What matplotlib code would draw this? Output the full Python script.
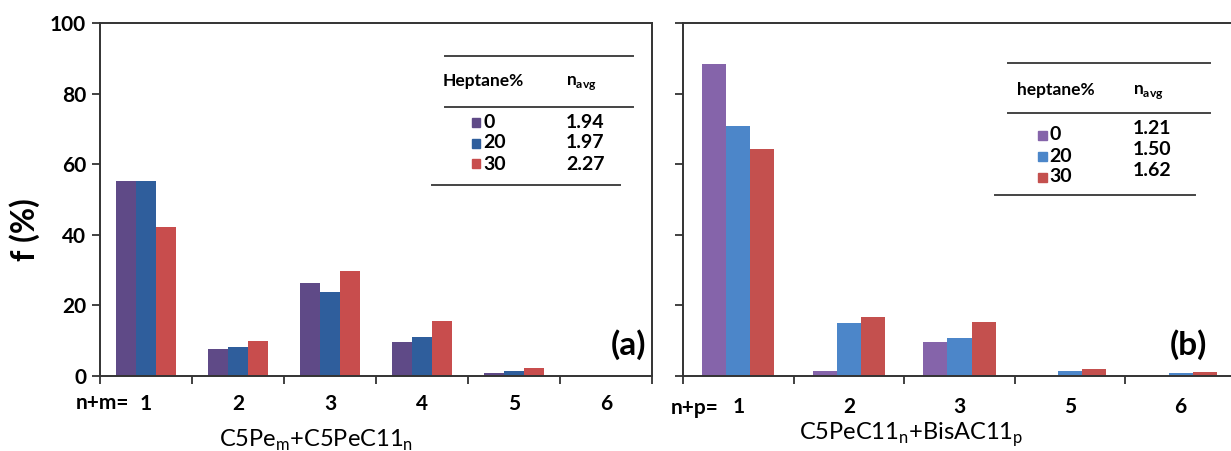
import numpy as np
import matplotlib
matplotlib.use('Agg')
import matplotlib.pyplot as plt
from matplotlib.lines import Line2D
from matplotlib.patches import Rectangle

plt.rcParams['font.family'] = ['Lato', 'DejaVu Sans']
plt.rcParams['mathtext.fontset'] = 'custom'
plt.rcParams['mathtext.rm'] = 'Lato'
plt.rcParams['mathtext.bf'] = 'Lato:bold'

# panel (a): C5Pe_m + C5PeC11_n
cats_a = ['1', '2', '3', '4', '5', '6']
a_0 = [55.3, 7.6, 26.3, 9.6, 0.8, 0.0]
a_20 = [55.1, 8.1, 23.7, 11.1, 1.5, 0.0]
a_30 = [42.1, 10.0, 29.8, 15.7, 2.4, 0.0]
navg_a = ['1.94', '1.97', '2.27']

# panel (b): C5PeC11_n + BisAC11_p
cats_b = ['1', '2', '3', '5', '6']
b_0 = [88.4, 1.5, 9.7, 0.0, 0.0]
b_20 = [70.7, 15.1, 10.9, 1.5, 0.8]
b_30 = [64.4, 16.6, 15.3, 1.9, 1.0]
navg_b = ['1.21', '1.50', '1.62']

heptane = ['0', '20', '30']
colors_a = ['#5f4a87', '#2f5e9c', '#c84d4d']
colors_b = ['#8564aa', '#4c86c9', '#c4504e']

W, H = 1231, 451
fig = plt.figure(figsize=(W / 100, H / 100), dpi=100)


def fx(px):
    return px / W


def fy(py):
    return 1 - py / H


def bars(ax, series, colors, ncat, pad):
    x = np.arange(ncat) + 0.5
    bw = 0.217
    for j, (vals, c) in enumerate(zip(series, colors)):
        ax.bar(x + (j - 1) * bw, vals, width=bw, color=c, edgecolor='none')
    ax.set_xlim(0, ncat)
    ax.set_ylim(0, 100)
    ax.set_xticks(np.arange(ncat + 1))
    ax.set_xticklabels([])
    ax.set_xticks(x, minor=True)
    ax.tick_params(axis='x', which='major', direction='out', length=6, width=1.3, color='#333333')
    ax.tick_params(axis='x', which='minor', length=0, pad=pad, labelsize=15)
    ax.tick_params(axis='y', direction='out', length=6, width=1.3, color='#333333', labelsize=15, pad=4)
    ax.set_yticks(np.arange(0, 101, 20))
    for s in ax.spines.values():
        s.set_linewidth(1.4)
        s.set_color('#333333')
    return x


def table(x0, x1, y_top, y_mid, y_bot, xb0, xb1, hdr, hx, nx, hy, rows_y, vals_y, sq_x, vals, colors, fs=12.5):
    for yy, a, b in [(y_top, x0, x1), (y_mid, x0, x1), (y_bot, xb0, xb1)]:
        fig.add_artist(Line2D([fx(a), fx(b)], [fy(yy), fy(yy)], color='#444444', lw=1.4))
    fig.text(fx(hx), fy(hy), hdr, fontsize=fs, fontweight='bold', va='center', ha='left')
    fig.text(fx(nx), fy(hy + 2), r'n$_{\mathregular{avg}}$', fontsize=fs, fontweight='bold', va='center', ha='left')
    for lab, v, c, ry, vy in zip(heptane, vals, colors, rows_y, vals_y):
        fig.add_artist(Rectangle((fx(sq_x - 4.5), fy(ry + 4.5)), fx(9), 9 / H, color=c))
        fig.text(fx(sq_x + 7), fy(ry), lab, fontsize=fs + 1.5, fontweight='bold', va='center', ha='left')
        fig.text(fx(nx), fy(vy), v, fontsize=fs + 1.5, fontweight='bold', va='center', ha='left')


# left panel
ax1 = fig.add_axes([fx(100), fy(376), fx(552), 353 / H])
bars(ax1, [a_0, a_20, a_30], colors_a, len(cats_a), 13)
ax1.set_xticklabels(cats_a, minor=True, fontweight='bold')
for t in ax1.get_yticklabels():
    t.set_fontweight('bold')
fig.text(fx(129), fy(403), 'n+m=', fontsize=15, fontweight='bold', ha='right', va='center')
fig.text(fx(316), fy(440), r'C5Pe$_{\mathregular{m}}$+C5PeC11$_{\mathregular{n}}$', fontsize=17, ha='center', va='center')
fig.text(fx(25), fy(230), 'f (%)', fontsize=23, fontweight='bold', rotation=90, ha='center', va='center')
ax1.text(0.99, 0.09, '(a)', transform=ax1.transAxes, fontsize=24, fontweight='bold', ha='right', va='center')
table(445, 633, 56, 107, 185, 432, 620, 'Heptane%', 443, 566, 81,
      [122, 143, 164], [122, 143, 164], 476, navg_a, colors_a)

# right panel
ax2 = fig.add_axes([fx(683), fy(376), fx(553), 353 / H])
bars(ax2, [b_0, b_20, b_30], colors_b, len(cats_b), 15)
ax2.set_xticklabels(cats_b, minor=True, fontweight='bold')
ax2.set_yticklabels([])
ax2.spines['right'].set_visible(False)
fig.text(fx(719), fy(408), 'n+p=', fontsize=15, fontweight='bold', ha='right', va='center')
fig.text(fx(911), fy(435), r'C5PeC11$_{\mathregular{n}}$+BisAC11$_{\mathregular{p}}$', fontsize=17, ha='center', va='center')
ax2.text(0.947, 0.09, '(b)', transform=ax2.transAxes, fontsize=24, fontweight='bold', ha='right', va='center')
table(1008, 1210, 63, 113, 195, 995, 1195, 'heptane%', 1017, 1133, 90,
      [135, 156, 177], [128, 150, 170], 1042, navg_b, colors_b)

plt.savefig('out.png', dpi=100)
